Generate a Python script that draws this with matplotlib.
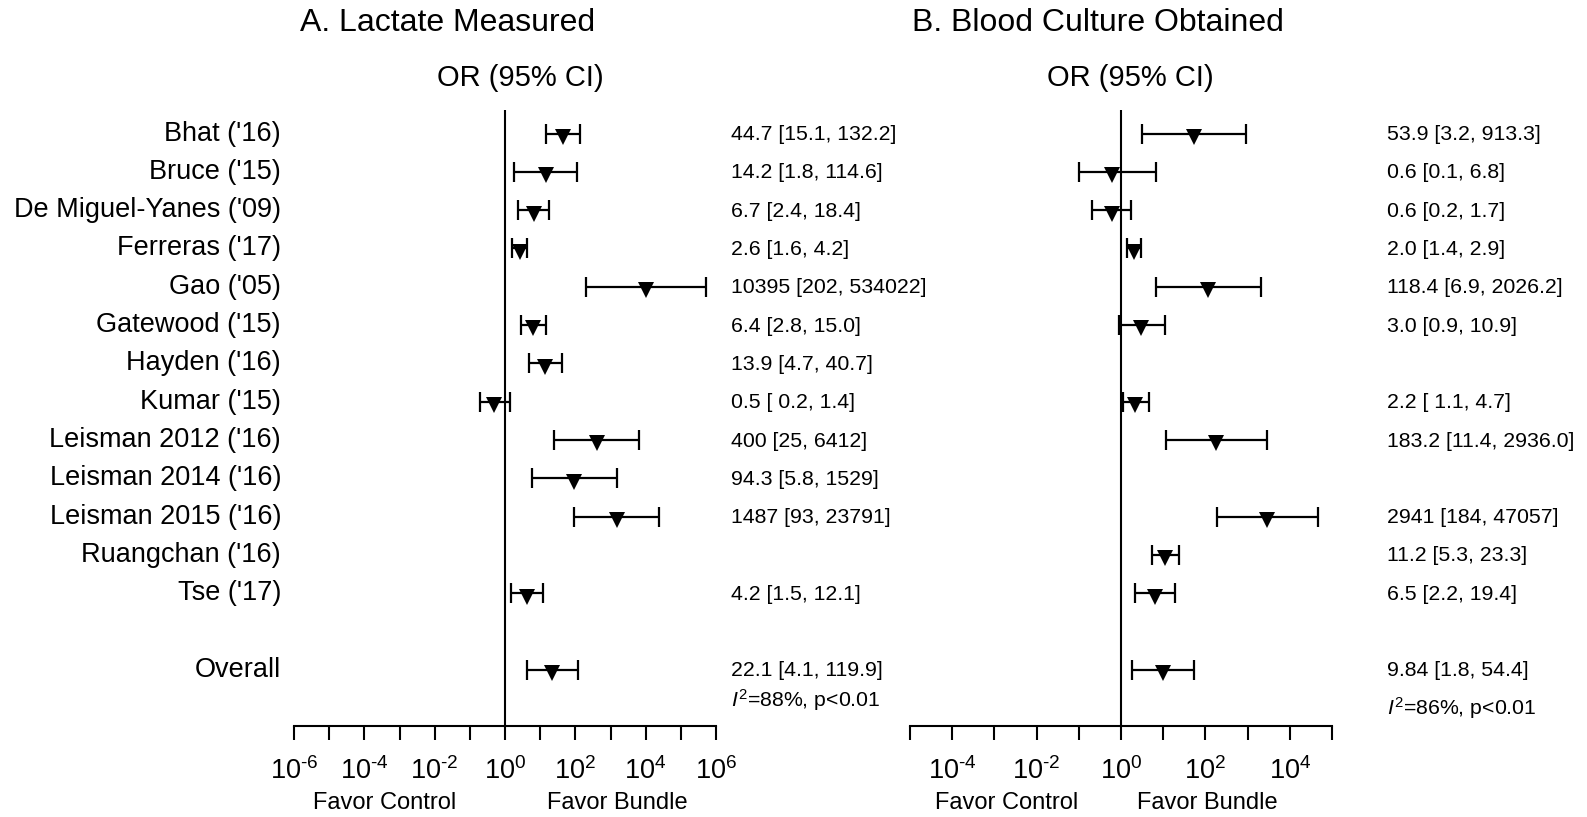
import numpy as np
import matplotlib.pyplot as plt
from matplotlib.ticker import FixedLocator, FixedFormatter

plt.rcParams["font.family"] = ["Liberation Sans", "DejaVu Sans"]
plt.rcParams["mathtext.fontset"] = "custom"
plt.rcParams["mathtext.rm"] = "Liberation Sans"
plt.rcParams["mathtext.it"] = "Liberation Sans:italic"

# ---------------- data ----------------
studies = ["Bhat ('16)", "Bruce ('15)", "De Miguel-Yanes ('09)", "Ferreras ('17)",
           "Gao ('05)", "Gatewood ('15)", "Hayden ('16)", "Kumar ('15)",
           "Leisman 2012 ('16)", "Leisman 2014 ('16)", "Leisman 2015 ('16)",
           "Ruangchan ('16)", "Tse ('17)", "Overall"]
rows = [0, 1, 2, 3, 4, 5, 6, 7, 8, 9, 10, 11, 12, 14]

# A. lactate measured
lac_or = [44.7, 14.2, 6.7, 2.6, 10395, 6.4, 13.9, 0.5, 400, 94.3, 1487, np.nan, 4.2, 22.1]
lac_lo = [15.1, 1.8, 2.4, 1.6, 202, 2.8, 4.7, 0.2, 25, 5.8, 93, np.nan, 1.5, 4.1]
lac_hi = [132.2, 114.6, 18.4, 4.2, 534022, 15.0, 40.7, 1.4, 6412, 1529, 23791, np.nan, 12.1, 119.9]
lac_txt = ["44.7 [15.1, 132.2]", "14.2 [1.8, 114.6]", "6.7 [2.4, 18.4]", "2.6 [1.6, 4.2]",
           "10395 [202, 534022]", "6.4 [2.8, 15.0]", "13.9 [4.7, 40.7]", "0.5 [ 0.2, 1.4]",
           "400 [25, 6412]", "94.3 [5.8, 1529]", "1487 [93, 23791]", "", "4.2 [1.5, 12.1]",
           "22.1 [4.1, 119.9]"]
lac_i2 = r"$\mathit{I}^2$=88%, p<0.01"

# B. blood culture obtained
bc_or = [53.9, 0.6, 0.6, 2.0, 118.4, 3.0, np.nan, 2.2, 183.2, np.nan, 2941, 11.2, 6.5, 9.84]
bc_lo = [3.2, 0.1, 0.2, 1.4, 6.9, 0.9, np.nan, 1.1, 11.4, np.nan, 184, 5.3, 2.2, 1.8]
bc_hi = [913.3, 6.8, 1.7, 2.9, 2026.2, 10.9, np.nan, 4.7, 2936.0, np.nan, 47057, 23.3, 19.4, 54.4]
bc_txt = ["53.9 [3.2, 913.3]", "0.6 [0.1, 6.8]", "0.6 [0.2, 1.7]", "2.0 [1.4, 2.9]",
          "118.4 [6.9, 2026.2]", "3.0 [0.9, 10.9]", "", "2.2 [ 1.1, 4.7]",
          "183.2 [11.4, 2936.0]", "", "2941 [184, 47057]", "11.2 [5.3, 23.3]",
          "6.5 [2.2, 19.4]", "9.84 [1.8, 54.4]"]
bc_i2 = r"$\mathit{I}^2$=86%, p<0.01"

W, H = 1587, 817
fig = plt.figure(figsize=(W / 100, H / 100), dpi=100)

Y_TOP, Y_BOT = 110, 725.5       # pixel rows of panel top / x-axis
ROW0, ROWH = 131.6, 38.3         # pixel y of first row and row spacing


def tick_label(e):
    if e < 0:
        return r"$\mathdefault{10^{\text{-}%d}}$" % abs(e)
    return r"$\mathdefault{10^{%d}}$" % e


def panel(x0, x1, exps, label_exps, or_, lo, hi, txt, txt_x, i2, i2_row, labels):
    ax = fig.add_axes([x0 / W, 1 - Y_BOT / H, (x1 - x0) / W, (Y_BOT - Y_TOP) / H])
    ax.patch.set_visible(False)
    ax.set_xscale("log")
    ax.set_xlim(10.0 ** exps[0], 10.0 ** exps[-1])
    ax.set_ylim((Y_BOT - ROW0) / ROWH, (Y_TOP - ROW0) / ROWH)

    o = np.array(or_, float)
    l = np.array(lo, float)
    h = np.array(hi, float)
    ax.errorbar(o, np.array(rows) + 0.05, xerr=[o - l, h - o], fmt="none",
                ecolor="black", capsize=7, elinewidth=1.6, capthick=1.6)
    ax.plot(o, np.array(rows) + 0.14, "v", color="black", markersize=12,
            markeredgewidth=0)
    ax.axvline(1, color="black", lw=1.5)

    for s in ["top", "right", "left"]:
        ax.spines[s].set_visible(False)
    ax.spines["bottom"].set_linewidth(1.5)
    ax.set_yticks([])
    ticks = [10.0 ** e for e in exps]
    ax.xaxis.set_major_locator(FixedLocator(ticks))
    ax.xaxis.set_minor_locator(FixedLocator([]))
    ax.xaxis.set_major_formatter(FixedFormatter(
        [tick_label(e) if e in label_exps else "" for e in exps]))
    ax.tick_params(axis="x", length=10, width=1.5, labelsize=19.5, pad=13)

    tr = ax.get_yaxis_transform()
    for r, s, t in zip(rows, studies, txt):
        if labels:
            ax.text((281 - x0) / (x1 - x0), r + 0.05, s, transform=tr, ha="right",
                    va="center", fontsize=19.5, clip_on=False)
        if t:
            ax.text(txt_x, r + 0.08, t, transform=tr, ha="left", va="center",
                    fontsize=15.3, clip_on=False)
    ax.text(txt_x, i2_row, i2, transform=tr, ha="left", va="center",
            fontsize=15.3, clip_on=False)
    return ax


panel(294, 716, list(range(-6, 7)), [-6, -4, -2, 0, 2, 4, 6],
      lac_or, lac_lo, lac_hi, lac_txt, (731 - 294) / 422, lac_i2, 14.85, True)
panel(910, 1332, list(range(-5, 6)), [-4, -2, 0, 2, 4],
      bc_or, bc_lo, bc_hi, bc_txt, (1387 - 910) / 422, bc_i2, 15.05, False)

# titles and footers
fig.text(448 / W, 1 - 23 / H, "A. Lactate Measured", ha="center", va="center", fontsize=23)
fig.text(520 / W, 1 - 78 / H, "OR (95% CI)", ha="center", va="center", fontsize=21)
fig.text(1098 / W, 1 - 23 / H, "B. Blood Culture Obtained", ha="center", va="center", fontsize=23)
fig.text(1130 / W, 1 - 78 / H, "OR (95% CI)", ha="center", va="center", fontsize=21)

for xc, s in [(385, "Favor Control"), (617, "Favor Bundle"),
              (1007, "Favor Control"), (1207, "Favor Bundle")]:
    fig.text(xc / W, 1 - 803 / H, s, ha="center", va="center", fontsize=17)

fig.savefig("out.png", dpi=100)
